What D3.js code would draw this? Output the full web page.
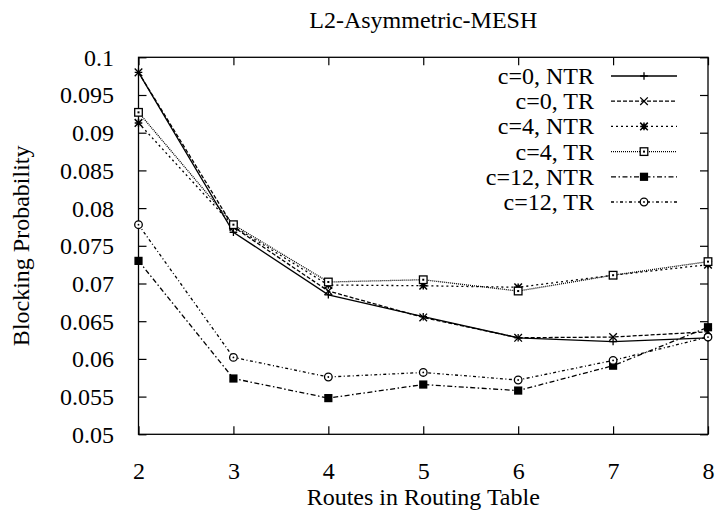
<!DOCTYPE html>
<html><head><meta charset="utf-8">
<script src="https://cdn.jsdelivr.net/npm/d3@7"></script>
<style>body{margin:0;background:#fff}svg{display:block}text{font-family:"Liberation Serif","Times New Roman",serif;fill:#000}</style>
</head><body>
<script>
const routes = [2,3,4,5,6,7,8];
const c0NTR  = [0.0980,0.0768,0.0685,0.0656,0.0628,0.0623,0.0628];
const c0TR   = [0.0980,0.0775,0.0690,0.0655,0.0628,0.0629,0.0636];
const c4NTR  = [0.0913,0.0776,0.0698,0.0697,0.0695,0.0711,0.0725];
const c4TR   = [0.0927,0.0778,0.0702,0.0705,0.0690,0.0711,0.0729];
const c12NTR = [0.0730,0.0574,0.0548,0.0566,0.0558,0.0591,0.0642];
const c12TR  = [0.0778,0.0602,0.0576,0.0582,0.0572,0.0598,0.0629];
const seriesNames = ["c=0, NTR","c=0, TR","c=4, NTR","c=4, TR","c=12, NTR","c=12, TR"];
const yTicks = [0.05,0.055,0.06,0.065,0.07,0.075,0.08,0.085,0.09,0.095,0.1];
const xTicks = [2,3,4,5,6,7,8];

const series = [
  {name:seriesNames[0], values:c0NTR,  dash:null,        marker:"plus"},
  {name:seriesNames[1], values:c0TR,   dash:"4,2",       marker:"cross"},
  {name:seriesNames[2], values:c4NTR,  dash:"2,3",       marker:"star"},
  {name:seriesNames[3], values:c4TR,   dash:"1,1",       marker:"square"},
  {name:seriesNames[4], values:c12NTR, dash:"5,2.5,1.5,2.5", marker:"fsquare"},
  {name:seriesNames[5], values:c12TR,  dash:"3,2.5,1,2.5",   marker:"circle"}
];

const W=717,H=510;
const m={l:138.5,r:717-708,t:57.3,b:510-434.3};
const svg=d3.select("body").append("svg").attr("width",W).attr("height",H);
const x=d3.scaleLinear().domain([2,8]).range([m.l,W-m.r]);
const y=d3.scaleLinear().domain([0.05,0.1]).range([H-m.b,m.t]);
const fs=24;
const cx0=(m.l+W-m.r)/2;

svg.append("text").attr("x",cx0).attr("y",28).attr("text-anchor","middle").attr("font-size",fs).text("L2-Asymmetric-MESH");
svg.append("text").attr("x",cx0).attr("y",505).attr("text-anchor","middle").attr("font-size",fs).text("Routes in Routing Table");
svg.append("text").attr("transform",`translate(29,${(m.t+H-m.b)/2}) rotate(-90)`).attr("text-anchor","middle").attr("font-size",fs).text("Blocking Probability");

const tl=8;
const gL=svg.append("g").attr("transform",`translate(${m.l},0)`).call(d3.axisLeft(y).tickValues(yTicks).tickSizeInner(-tl).tickSizeOuter(0).tickPadding(16.5+tl).tickFormat(d=>String(+d.toFixed(3))));
const gR=svg.append("g").attr("transform",`translate(${W-m.r},0)`).call(d3.axisRight(y).tickValues(yTicks).tickSizeInner(-tl).tickSizeOuter(0).tickFormat(""));
const gB=svg.append("g").attr("transform",`translate(0,${H-m.b})`).call(d3.axisBottom(x).tickValues(xTicks).tickSizeInner(-tl).tickSizeOuter(0).tickPadding(20+tl).tickFormat(d3.format("d")));
const gT=svg.append("g").attr("transform",`translate(0,${m.t})`).call(d3.axisTop(x).tickValues(xTicks).tickSizeInner(-tl).tickSizeOuter(0).tickFormat(""));
[gL,gR,gB,gT].forEach(g=>{g.select(".domain").remove();g.selectAll("line").attr("stroke","#000").attr("stroke-width",1.2);g.selectAll("text").attr("font-size",fs).attr("font-family",'"Liberation Serif",serif').attr("fill","#000");});
gL.selectAll("text").attr("dy","0.33em");
svg.append("rect").attr("x",m.l).attr("y",m.t).attr("width",W-m.r-m.l).attr("height",H-m.b-m.t).attr("fill","none").attr("stroke","#000").attr("stroke-width",1.3);

function marker(g,type,cx,cy){
  const s=3.8;
  if(type==="plus"){g.append("path").attr("d",`M${cx-s},${cy}H${cx+s}M${cx},${cy-s}V${cy+s}`).attr("stroke","#000").attr("stroke-width",1.3);}
  else if(type==="cross"){g.append("path").attr("d",`M${cx-s},${cy-s}L${cx+s},${cy+s}M${cx-s},${cy+s}L${cx+s},${cy-s}`).attr("stroke","#000").attr("stroke-width",1.3);}
  else if(type==="star"){g.append("path").attr("d",`M${cx-s},${cy}H${cx+s}M${cx},${cy-s}V${cy+s}M${cx-s},${cy-s}L${cx+s},${cy+s}M${cx-s},${cy+s}L${cx+s},${cy-s}`).attr("stroke","#000").attr("stroke-width",1.5);}
  else if(type==="square"){g.append("rect").attr("x",cx-s).attr("y",cy-s).attr("width",2*s).attr("height",2*s).attr("fill","#fff").attr("stroke","#000").attr("stroke-width",1.3);
    g.append("rect").attr("x",cx-1).attr("y",cy-1).attr("width",2).attr("height",2).attr("fill","#000");}
  else if(type==="fsquare"){g.append("rect").attr("x",cx-s-0.3).attr("y",cy-s-0.3).attr("width",2*s+0.6).attr("height",2*s+0.6).attr("fill","#000");}
  else if(type==="circle"){g.append("circle").attr("cx",cx).attr("cy",cy).attr("r",s).attr("fill","#fff").attr("stroke","#000").attr("stroke-width",1.3);
    g.append("circle").attr("cx",cx).attr("cy",cy).attr("r",0.9).attr("fill","#000");}
}

const line=d3.line().x((d,i)=>x(routes[i])).y(d=>y(d));
const plot=svg.append("g");
series.forEach(s=>{
  const p=plot.append("path").attr("d",line(s.values)).attr("fill","none").attr("stroke","#000").attr("stroke-width",1.3);
  if(s.dash)p.attr("stroke-dasharray",s.dash);
});
series.forEach(s=>{
  const g=plot.append("g");
  s.values.forEach((v,i)=>marker(g,s.marker,x(routes[i]),y(v)));
});

const leg=svg.append("g");
series.forEach((s,i)=>{
  const ly=76+i*25.2;
  leg.append("text").attr("x",594).attr("y",ly).attr("dy","0.33em").attr("text-anchor","end").attr("font-size",fs).text(s.name);
  const p=leg.append("line").attr("x1",611).attr("x2",677).attr("y1",ly).attr("y2",ly).attr("stroke","#000").attr("stroke-width",1.3);
  if(s.dash)p.attr("stroke-dasharray",s.dash);
  marker(leg,s.marker,644,ly);
});
</script>
</body></html>
